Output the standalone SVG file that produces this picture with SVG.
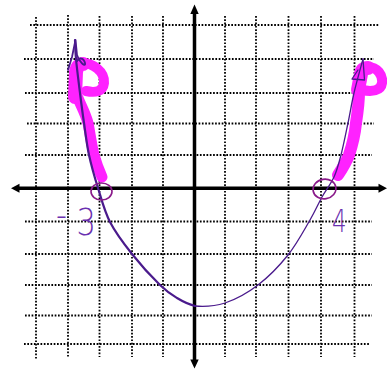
<svg xmlns="http://www.w3.org/2000/svg" width="387" height="369" viewBox="0 0 387 369">
<style>
.grid{stroke:#000;stroke-width:1.8;stroke-dasharray:1.7 1.6;fill:none}
.axis{stroke:#000;stroke-width:3.5;fill:none}
.arrowhead{fill:#000;stroke:none}
.hl{fill:none;stroke:#ff22ff;stroke-linecap:round;stroke-linejoin:round}
.curve{fill:none;stroke:#4a1a8c;stroke-linecap:round;stroke-linejoin:round}
.ring{fill:none;stroke:#8a1a8a;stroke-width:1.6}
.lbl{font-family:"DejaVu Sans","Liberation Sans",sans-serif;font-weight:200;fill:#6a30b0}
</style>
<rect width="387" height="369" fill="#fff"/>
<g id="grid">
<line class="grid" x1="36" y1="17" x2="36" y2="360"/>
<line class="grid" x1="68" y1="15" x2="68" y2="357"/>
<line class="grid" x1="99.5" y1="16" x2="99.5" y2="357"/>
<line class="grid" x1="132" y1="16" x2="132" y2="357"/>
<line class="grid" x1="163" y1="16" x2="163" y2="357"/>
<line class="grid" x1="225" y1="16" x2="225" y2="357"/>
<line class="grid" x1="256" y1="16" x2="256" y2="357"/>
<line class="grid" x1="288.5" y1="16" x2="288.5" y2="357"/>
<line class="grid" x1="321" y1="16" x2="321" y2="357"/>
<line class="grid" x1="354.5" y1="16" x2="354.5" y2="357"/>
<line class="grid" x1="30" y1="25" x2="379" y2="25"/>
<line class="grid" x1="24" y1="59" x2="374" y2="59"/>
<line class="grid" x1="25" y1="93" x2="374" y2="93"/>
<line class="grid" x1="27" y1="123.5" x2="374" y2="123.5"/>
<line class="grid" x1="25" y1="155" x2="372" y2="155"/>
<line class="grid" x1="25" y1="221.5" x2="372" y2="221.5"/>
<line class="grid" x1="25" y1="254" x2="372" y2="254"/>
<line class="grid" x1="25" y1="285" x2="372" y2="285"/>
<line class="grid" x1="25" y1="315.5" x2="372" y2="315.5"/>
<line class="grid" x1="24" y1="344" x2="370" y2="344"/>
</g>
<g id="axes">
<line class="axis" x1="18" y1="188.3" x2="381" y2="188.3"/>
<line class="axis" x1="194.5" y1="12" x2="194.5" y2="361"/>
<polygon class="arrowhead" points="11,188.3 19.5,183.8 19.5,192.8"/>
<polygon class="arrowhead" points="387,188.3 378.5,183.8 378.5,192.8"/>
<polygon class="arrowhead" points="194.5,4.5 190.3,14 198.7,14"/>
<polygon class="arrowhead" points="194.5,368.5 190.3,359.5 198.7,359.5"/>
</g>
<g id="highlight-left">
<path class="hl" stroke-width="11" d="M102,177 C98,168 96,162 94,155 C91,142 90,133 88,123 C85,112 81,106 78,98"/>
<path class="hl" stroke-width="14" d="M75,97 L76,72 C77,66 80,64 83,64"/>
<path class="hl" stroke-width="10" d="M80,63 C93,62 105,72 104,83 C103,92 95,93 86,91"/>
</g>
<g id="highlight-right">
<path class="hl" stroke-width="12" d="M338,175 C344,166 347,160 349,155 C353,143 355,133 356,123 C358,110 359,100 359,92 L361,74"/>
<path class="hl" stroke-width="14" d="M358,90 L361,74 C362,69 365,68 368,68"/>
<path class="hl" stroke-width="10" d="M366,67 C378,66 383,76 382,83 C381,91 372,92 362,90"/>
</g>
<g id="parabola">
<path class="curve" stroke-width="2.2" d="M75,40 C75.17,43.2 75.17,50.17 76,59 C76.83,67.83 78.67,82.33 80,93 C81.33,103.67 82.5,112.67 84,123 C85.5,133.33 86.67,144.17 89,155 C91.33,165.83 94.5,176.83 98,188 C101.5,199.17 104.33,211 110,222 C115.67,233 123.67,243.5 132,254 C140.33,264.5 152.5,277.67 160,285 C167.5,292.33 171.17,294.5 177,298 C182.83,301.5 189.5,304.58 195,306"/>
<path class="curve" stroke-width="1.3" d="M195,306 C205,306.8 214.5,306.3 225,303 C235.5,299.5 247.5,293 258,285 C268.5,277 279.33,265.83 288,255 C296.67,244.17 304.33,229.67 310,220 C315.67,210.33 318,204.17 322,197 C326,189.83 330.83,184 334,177 C337.17,170 338.67,164 341,155 C343.33,146 345.83,133.33 348,123 C350.17,112.67 351.5,103.67 354,93 C356.5,82.33 361.5,64.67 363,59"/>
<path class="curve" stroke-width="1.8" d="M68,70 L72,57 L75.5,40 L77,55 C79,62 86,68 85,63 C84,58 79,57 77,61"/>
<path class="curve" stroke-width="1.3" d="M358,70 L352,79 L364.5,80 L363,59"/>
</g>
<g id="root-left">
<ellipse class="ring" cx="101.5" cy="191.5" rx="10.5" ry="8.5"/>
<text class="lbl" x="0" y="0" font-size="38" transform="translate(56,235) scale(0.8,1)"><tspan dy="-7">-</tspan><tspan dy="7" dx="12">3</tspan></text>
</g>
<g id="root-right">
<ellipse class="ring" cx="324.5" cy="189" rx="11.5" ry="9.8" transform="rotate(-10 324.5 189)"/>
<text class="lbl" x="0" y="0" font-size="32" transform="translate(332,232) scale(0.72,1)">4</text>
</g>
</svg>
